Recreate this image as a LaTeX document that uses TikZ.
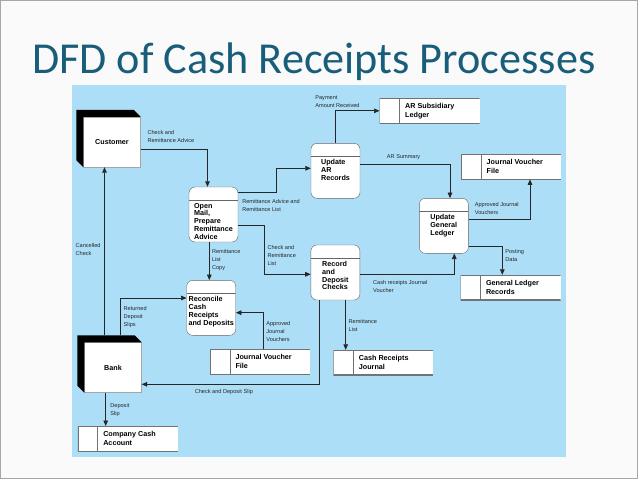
\documentclass[tikz,border=0pt]{standalone}
\usepackage{fontspec}
\setmainfont{Liberation Sans}
\newfontfamily\titlefont{Carlito}
\usetikzlibrary{arrows.meta,calc}
\definecolor{slidebg}{HTML}{FAFAFA}
\definecolor{dfdblue}{HTML}{ACDEF7}
\definecolor{titleblue}{HTML}{185E7A}

\begin{document}
\begin{tikzpicture}[x=1pt,y=-1pt,
  proc/.style={draw=black!60, fill=white, rounded corners=6pt, minimum width=49pt, minimum height=55pt, inner sep=0pt,
    path picture={\draw[black!60] ([yshift=-12.7pt]path picture bounding box.north west) -- ([yshift=-12.7pt]path picture bounding box.north east);}},
  ptext/.style={anchor=north, yshift=-16pt, align=left, inner sep=0pt, font=\bfseries\fontsize{7.2}{7.9}\selectfont},
  store/.style={fill=white, minimum width=100pt, minimum height=25pt, inner sep=0pt,
    path picture={\draw[black!55, line width=1.4pt] (path picture bounding box.north east) -- (path picture bounding box.north west) -- (path picture bounding box.south west) -- (path picture bounding box.south east);
      \draw[black!55, line width=0.7pt] ([xshift=20pt]path picture bounding box.north west) -- ([xshift=20pt]path picture bounding box.south west);}},
  stext/.style={anchor=west, xshift=25.5pt, align=left, inner sep=0pt, font=\bfseries\fontsize{7.2}{9}\selectfont},
  entity/.style={draw=black!35, fill=white, minimum width=57pt, minimum height=50pt, inner sep=0pt, font=\bfseries\fontsize{7.2}{8}\selectfont},
  flow/.style={draw=black!85, line width=0.7pt, -{Triangle[length=5.5pt,width=4.6pt]}},
  lbl/.style={inner sep=0pt, align=left, font=\fontsize{5.6}{8}\selectfont, text=black!85}]
\useasboundingbox (0,0) rectangle (638,479);
\fill[slidebg] (0,0) rectangle (638,479);
\draw[black!35] (0.5,0.5) rectangle (637.5,478.5);
\node[anchor=base west, inner sep=0pt, text=titleblue, font=\titlefont\fontsize{44.2}{50}\selectfont] (title) at (32,73.3) {DFD of Cash Receipts Processes};
\fill[dfdblue] (72,85) rectangle (566,457);

\node[entity] (customer) at (112,142) {Customer};
\fill[black] (customer.north west) -- (customer.south west) -- ++(-7,-7) -- ($(customer.north west)+(-7,-7)$) -- ($(customer.north east)+(-7,-7)$) -- (customer.north east) -- cycle;
\node[entity] (bank) at (113,367.5) {Bank};
\fill[black] (bank.north west) -- (bank.south west) -- ++(-7,-7) -- ($(bank.north west)+(-7,-7)$) -- ($(bank.north east)+(-7,-7)$) -- (bank.north east) -- cycle;

\node[proc] (openmail) at (213.5,214.5) {};
\node[ptext] at (openmail.north) {Open\\Mail,\\Prepare\\Remittance\\Advice};
\node[proc] (updar) at (335.5,170.8) {};
\node[ptext] at (updar.north) {Update\\AR\\Records};
\node[proc] (updgl) at (443.8,225.8) {};
\node[ptext] at (updgl.north) {Update\\General\\Ledger};
\node[proc] (record) at (335.4,272.5) {};
\node[ptext] at (record.north) {Record\\and\\Deposit\\Checks};
\node[proc] (reconcile) at (211.2,307.8) {};
\node[ptext] at (reconcile.north) {Reconcile\\Cash\\Receipts\\and Deposits};

\node[store] (arsub) at (429.7,110.8) {};
\node[stext] at (arsub.west) {AR Subsidiary\\Ledger};
\node[store] (jvtop) at (511.2,166.7) {};
\node[stext] at (jvtop.west) {Journal Voucher\\File};
\node[store] (glrec) at (510.5,287.5) {};
\node[stext] at (glrec.west) {General Ledger\\Records};
\node[store] (crj) at (383.4,362.5) {};
\node[stext] at (crj.west) {Cash Receipts\\Journal};
\node[store] (jvlow) at (260,361.7) {};
\node[stext] at (jvlow.west) {Journal Voucher\\File};
\node[store] (cca) at (127.8,438.7) {};
\node[stext] at (cca.west) {Company Cash\\Account};

\draw[flow] ([yshift=-7pt]customer.east) -| node[lbl, pos=0, anchor=north west, xshift=6.5pt, yshift=19.3pt] {Check and\\Remittance Advice} ([xshift=-6pt]openmail.north);
\draw[flow] ([yshift=21.8pt]openmail.east) -- node[lbl, pos=0, anchor=north west, xshift=3.7pt, yshift=-6pt] {Remittance Advice and\\Remittance List} ++(37.7,0) |- ([yshift=2.5pt]updar.west);
\draw[flow] ([yshift=-11.2pt]openmail.east) -- ++(25.7,0) |- node[lbl, pos=0, anchor=north west, xshift=3.3pt, yshift=-19.6pt] {Check and\\Remittance\\List} ([yshift=-1.8pt]record.west);
\draw[flow] ([xshift=-4.2pt]openmail.south) -- node[lbl, pos=0, anchor=north west, xshift=2.4pt, yshift=-7.3pt] {Remittance\\List\\Copy} ([xshift=-4.2pt]openmail.south |- reconcile.north);
\draw[flow] (updar.north) |- node[lbl, pos=0.5, anchor=north west, xshift=-20.5pt, yshift=15.1pt] {Payment\\Amount Received} (arsub.west);
\draw[flow] ([yshift=6.8pt]updar.east) -| node[lbl, pos=0, anchor=north west, xshift=26.4pt, yshift=10pt] {AR Summary} ([xshift=6.2pt]updgl.north);
\draw[flow] ([yshift=6.5pt]updgl.east) -| node[lbl, pos=0, anchor=north west, xshift=6pt, yshift=17.3pt] {Approved Journal\\Vouchers} ([xshift=18.8pt]jvtop.south);
\draw[flow] ([yshift=-20.2pt]updgl.east) -| node[lbl, pos=0.5, anchor=north west, xshift=2.7pt, yshift=-3pt] {Posting\\Data} ([xshift=-8.2pt]glrec.north);
\draw[flow] ([yshift=-1.8pt]record.east) -| node[lbl, pos=0, anchor=north west, xshift=12.7pt, yshift=-5.4pt] {Cash receipts Journal\\Voucher} ([xshift=10.5pt]updgl.south);
\draw[flow] ([xshift=10.3pt]record.south) -- node[lbl, pos=0, anchor=north west, xshift=2.6pt, yshift=-19pt] {Remittance\\List} ([xshift=10.3pt]record.south |- crj.north);
\draw[flow] ([xshift=-16.1pt]record.south) |- node[lbl, pos=1, anchor=north west, xshift=52.7pt, yshift=-4.7pt] {Check and Deposit Slip} ([yshift=-16.8pt]bank.east);
\draw[flow] ([xshift=-8.5pt,yshift=7pt]bank.north) -- node[lbl, pos=0.55, anchor=north east, xshift=-3.6pt] {Cancelled\\Check} ([xshift=-8.5pt]bank.north |- customer.south);
\draw[flow] ([xshift=7pt,yshift=7pt]bank.north) |- node[lbl, pos=0.5, anchor=north west, xshift=3.3pt, yshift=-8.3pt] {Returned\\Deposit\\Slips} ([yshift=9.8pt]reconcile.west);
\draw[flow] ([xshift=3.3pt]jvlow.north) |- node[lbl, pos=0.5, anchor=north west, xshift=2.7pt, yshift=-8.6pt] {Approved\\Journal\\Vouchers} ([yshift=-4.9pt]reconcile.east);
\draw[flow] ([xshift=-7.3pt]bank.south) -- node[lbl, pos=0, anchor=north west, xshift=4.3pt, yshift=-10.7pt] {Deposit\\Slip} ([xshift=-7.3pt]bank.south |- cca.north);
\end{tikzpicture}
\end{document}
